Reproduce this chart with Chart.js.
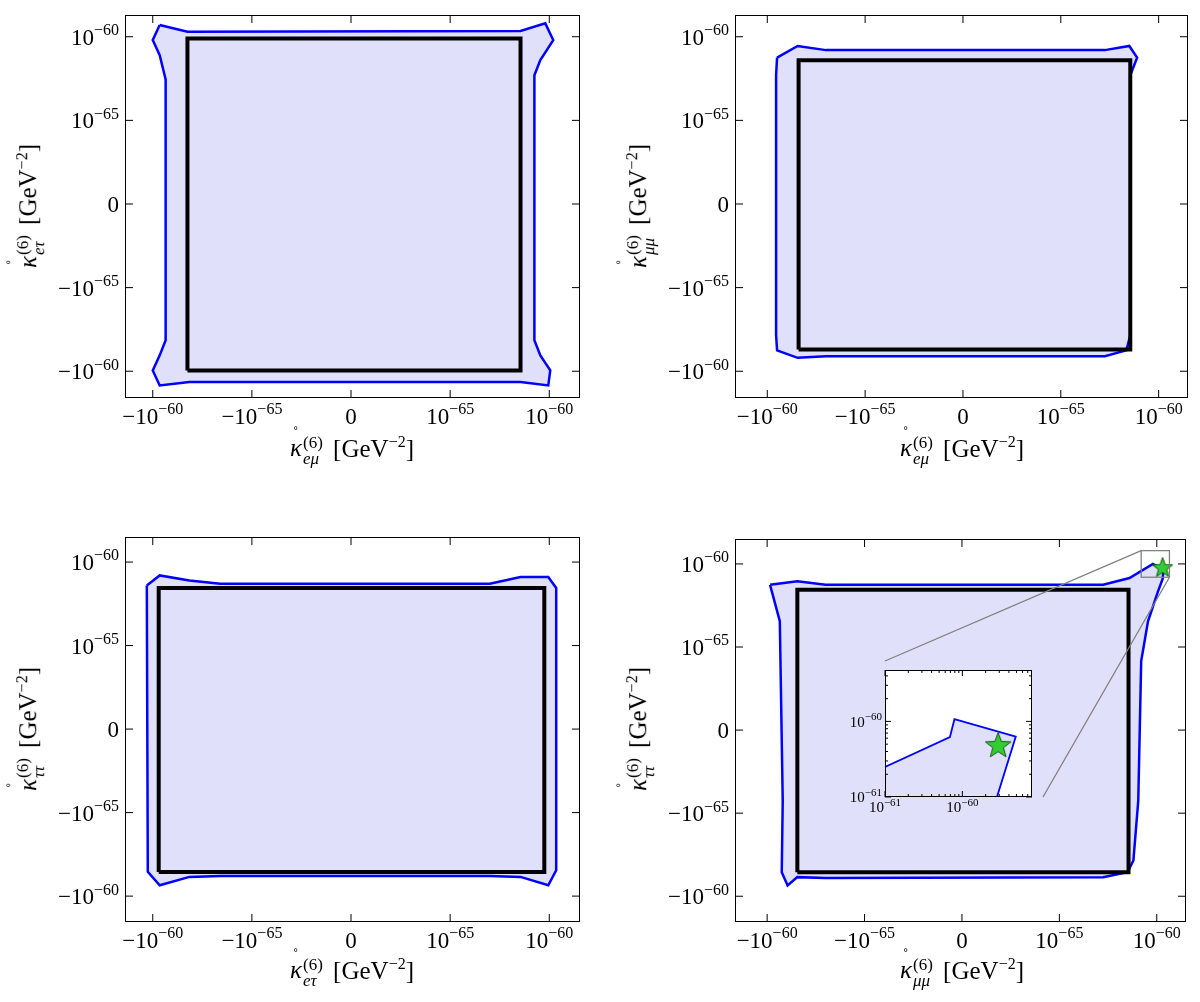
<!DOCTYPE html>
<html><head><meta charset="utf-8">
<script src="https://cdn.jsdelivr.net/npm/chart.js@4.4.0/dist/chart.umd.min.js"></script>
<style>
body{margin:0;background:#fff;width:1200px;height:1002px;position:relative;overflow:hidden;font-family:"Liberation Serif","DejaVu Serif",serif}
canvas{position:absolute}
.t{position:absolute;font-size:25px;white-space:nowrap;color:#000}
.k{position:relative;display:inline-block}
.k b{position:absolute;left:3px;top:-9px;font-weight:normal;font-size:16px;font-style:normal}
.ss{display:inline-flex;flex-direction:column;vertical-align:middle;font-size:17px;line-height:16px;margin-left:1px;margin-right:4px}
.ss i{display:block}
.yl{transform-origin:center;transform:translate(-50%,-50%) rotate(-90deg)}
.xl{transform:translate(-50%,-50%)}
sup{font-size:16px}
</style></head><body>
<script>
// Axis coordinates are symlog units: ±1 = ±1e-65, ±2 = ±1e-60
const tickValues=[-2,-1,0,1,2];
const tickBases=['−10','−10','0','10','10'];
const tickExps=['−60','−65','','−65','−60'];
const c1X=[-1.93,-1.65,1.71,1.96,2.04,1.91,1.85,1.85,1.91,2.01,1.99,1.71,-1.63,-1.93,-2.0,-1.93,-1.87,-1.87,-1.93,-2.0,-1.93];
const c1Y=[2.14,2.06,2.07,2.16,1.96,1.72,1.54,-1.63,-1.81,-1.99,-2.17,-2.13,-2.13,-2.17,-1.99,-1.81,-1.63,1.49,1.78,1.96,2.14];
const r1=[-1.65,1.71,-1.99,1.98];
const c2X=[-1.90,-1.69,-1.40,1.45,1.70,1.78,1.71,1.71,1.67,1.45,-1.40,-1.69,-1.90,-1.91,-1.91,-1.90];
const c2Y=[1.75,1.89,1.84,1.84,1.89,1.75,1.54,-1.57,-1.75,-1.82,-1.82,-1.84,-1.75,-1.57,1.54,1.75];
const r2=[-1.68,1.71,-1.74,1.72];
const c3X=[-2.06,-1.93,-1.63,-1.32,1.40,1.71,1.99,2.07,2.07,1.99,1.71,1.40,-1.32,-1.63,-1.93,-2.05,-2.06];
const c3Y=[1.72,1.84,1.78,1.74,1.74,1.82,1.82,1.69,-1.69,-1.87,-1.77,-1.76,-1.76,-1.77,-1.87,-1.71,1.72];
const r3=[-1.94,1.95,-1.71,1.69];
const c4X=[-1.97,-1.69,-1.40,1.45,1.72,1.96,2.07,2.06,2.01,1.91,1.84,1.81,1.76,1.70,1.45,-1.40,-1.69,-1.79,-1.85,-1.84,-1.87,-1.95,-1.97];
const c4Y=[1.75,1.79,1.75,1.75,1.83,2.0,1.93,1.82,1.66,1.31,0.83,-0.85,-1.57,-1.71,-1.77,-1.78,-1.77,-1.87,-1.71,-0.85,1.31,1.66,1.75];
const r4=[-1.69,1.71,-1.71,1.69];
const starX=[2.06], starY=[1.96];
// inset (real values, log axes)
const insX=[1e-61,6.9e-61,7.9e-61,4.9e-60,2.8e-60,1e-61];
const insY=[2.5e-61,6.2e-61,1.07e-60,6.3e-61,1e-61,1e-61];
const insStarX=[2.9e-60], insStarY=[4.9e-61];
const insTicks=[1e-61,1e-60], insExps=['−61','−60'];

const FAM='"Liberation Serif","DejaVu Serif",serif';
const FILL='#e0e0fa';
function pts(xs,ys){return xs.map((x,i)=>({x,y:ys[i]}));}
function rect(r){return [{x:r[0],y:r[2]},{x:r[1],y:r[2]},{x:r[1],y:r[3]},{x:r[0],y:r[3]},{x:r[0],y:r[2]}];}
function starImg(size){const c=document.createElement('canvas');c.width=c.height=size;const g=c.getContext('2d');
 g.beginPath();for(let i=0;i<10;i++){const a=-Math.PI/2+i*Math.PI/5;const r=(i%2?0.2:0.48)*size;g.lineTo(size/2+r*Math.cos(a),size/2+r*Math.sin(a)+size*0.04);}g.closePath();
 g.fillStyle='#33cc33';g.fill();g.strokeStyle='#0a5a0a';g.lineWidth=1;g.stroke();return c;}

// draw "base^exp" label; align: 'center' (top anchored) or 'right' (middle anchored)
function drawLab(g,base,exp,x,y,align,bs,es){
 g.font=bs+'px '+FAM;const bw=g.measureText(base).width;g.font=es+'px '+FAM;const ew=exp?g.measureText(exp).width:0;
 const w=bw+ew;let x0=align==='center'?x-w/2:x-w;let yb=align==='center'?y+bs*0.95:y+bs*0.35;
 g.fillStyle='#000';g.textBaseline='alphabetic';g.textAlign='left';
 g.font=bs+'px '+FAM;g.fillText(base,x0,yb);if(exp){g.font=es+'px '+FAM;g.fillText(exp,x0+bw,yb-bs*0.42);}
}
const frame={id:'frame',afterDraw(ch,args,o){const a=ch.chartArea,g=ch.ctx;g.save();g.strokeStyle='#000';g.lineWidth=1;
 g.strokeRect(a.left+0.5,a.top+0.5,a.right-a.left-1,a.bottom-a.top-1);
 (o.xt||[]).forEach(([v,l])=>{const p=ch.scales.x.getPixelForValue(v);g.beginPath();g.moveTo(p,a.bottom);g.lineTo(p,a.bottom-l);g.moveTo(p,a.top);g.lineTo(p,a.top+l);g.stroke();});
 (o.yt||[]).forEach(([v,l])=>{const p=ch.scales.y.getPixelForValue(v);g.beginPath();g.moveTo(a.left,p);g.lineTo(a.left+l,p);g.moveTo(a.right,p);g.lineTo(a.right-l,p);g.stroke();});
 (o.labs||[]).forEach(([v,b,e])=>{drawLab(g,b,e,ch.scales.x.getPixelForValue(v),a.bottom+o.pad,'center',o.bs,o.es);
   drawLab(g,b,e,a.left-o.pad-2,ch.scales.y.getPixelForValue(v),'right',o.bs,o.es);});
 if(o.extra)o.extra(ch,g);g.restore();}};
const whiteBg={id:'whiteBg',beforeDraw(ch){const a=ch.chartArea,g=ch.ctx;g.save();g.fillStyle='#fff';g.fillRect(a.left,a.top,a.right-a.left,a.bottom-a.top);g.restore();}};

function axis(type,min,max,isX,sz){return {type,min,max,display:true,
 afterFit:s=>{if(isX)s.height=sz;else s.width=sz;s.paddingLeft=s.paddingRight=s.paddingTop=s.paddingBottom=0;},
 grid:{display:false,drawTicks:false},border:{display:false},ticks:{display:false}};}

const LEFT=110,BOT=60,TOP=10,RIGHT=10;
function panel(px,py,pw,ph,xr,yr,cx,cy,rc,extra,star){
 const cv=document.createElement('canvas');document.body.appendChild(cv);
 cv.style.left=(px-LEFT)+'px';cv.style.top=(py-TOP)+'px';
 const W=pw+LEFT+RIGHT,H=ph+TOP+BOT;cv.width=W;cv.height=H;cv.style.width=W+'px';cv.style.height=H+'px';
 const ds=[
  {data:rect(rc),showLine:true,borderColor:'#000',borderWidth:4,pointRadius:0,fill:false,order:1},
  {data:pts(cx,cy),showLine:true,borderColor:'#0000ff',borderWidth:2.5,pointRadius:0,fill:'shape',backgroundColor:FILL,order:2,tension:0}];
 if(star)ds.push({data:pts(star[0],star[1]),pointStyle:starImg(22),pointRadius:11,order:0});
 const tk=tickValues.map(v=>[v,8]);
 new Chart(cv,{type:'scatter',data:{datasets:ds},
  options:{responsive:false,animation:false,devicePixelRatio:1,layout:{padding:{top:TOP,right:RIGHT,left:0,bottom:0}},
   plugins:{legend:{display:false},tooltip:{enabled:false},
     frame:{xt:tk,yt:tk,extra,labs:tickValues.map((v,i)=>[v,tickBases[i],tickExps[i]]),pad:4,bs:23,es:16}},
   scales:{x:axis('linear',xr[0],xr[1],true,BOT),y:axis('linear',yr[0],yr[1],false,LEFT)}},
  plugins:[frame]});
}
panel(125,15,455,383,[-2.28,2.31],[-2.32,2.26],c1X,c1Y,r1);
panel(735,15,453,383,[-2.33,2.30],[-2.32,2.26],c2X,c2Y,r2);
panel(125,537,455,385,[-2.28,2.31],[-2.31,2.30],c3X,c3Y,r3);
const IN={l:885,t:661,r:1043,b:797};
const off={left:735-LEFT,top:537-TOP};
panel(735,537,453,385,[-2.33,2.30],[-2.31,2.30],c4X,c4Y,r4,(ch,g)=>{
 const x=ch.scales.x,y=ch.scales.y;const bx0=x.getPixelForValue(1.84),bx1=x.getPixelForValue(2.13),by0=y.getPixelForValue(2.16),by1=y.getPixelForValue(1.84);
 g.strokeStyle='#808080';g.lineWidth=1.3;g.strokeRect(bx0,by0,bx1-bx0,by1-by0);
 g.beginPath();g.moveTo(bx0,by0);g.lineTo(IN.l-off.left,IN.t-off.top);g.moveTo(bx1,by1);g.lineTo(IN.r-off.left,IN.b-off.top);g.stroke();
},[starX,starY]);

// inset
(function(){
 const IL=50,IB=30,IT=6,IR=4;const cv=document.createElement('canvas');document.body.appendChild(cv);
 const W=IN.r-IN.l+IL+IR,H=IN.b-IN.t+IT+IB;cv.width=W;cv.height=H;cv.style.width=W+'px';cv.style.height=H+'px';
 cv.style.left=(IN.l-IL)+'px';cv.style.top=(IN.t-IT)+'px';
 const xmax=Math.pow(10,-59.1),ymax=Math.pow(10,-59.32);
 const xt=[],yt=[];
 insTicks.forEach(b=>{for(let k=1;k<10;k++){const v=b*k;if(v<=xmax)xt.push([v,k==1?6:3]);if(v<=ymax)yt.push([v,k==1?6:3]);}});
 new Chart(cv,{type:'scatter',data:{datasets:[
   {data:pts(insX,insY),showLine:true,borderColor:'#0000ff',borderWidth:1.8,pointRadius:0,fill:'shape',backgroundColor:FILL,order:2},
   {data:pts(insStarX,insStarY),pointStyle:starImg(28),pointRadius:14,order:0}]},
  options:{responsive:false,animation:false,devicePixelRatio:1,layout:{padding:{top:IT,right:IR,left:0,bottom:0}},
   plugins:{legend:{display:false},tooltip:{enabled:false},
     frame:{xt,yt,labs:insTicks.map((v,i)=>[v,'10',insExps[i]]),pad:1,bs:15,es:11}},
   scales:{x:axis('logarithmic',1e-61,xmax,true,IB),y:axis('logarithmic',1e-61,ymax,false,IL)}},
  plugins:[whiteBg,frame]});
})();

// axis titles
function lab(sub,cls,x,y){const d=document.createElement('div');d.className='t '+cls;d.style.left=x+'px';d.style.top=y+'px';
 d.innerHTML='<span class="k"><i>κ</i><b>˚</b></span><span class="ss"><i style="font-style:normal">(6)</i><i>'+sub+'</i></span> [GeV<sup>−2</sup>]';document.body.appendChild(d);}
lab('eμ','xl',352,450);lab('eμ','xl',962,450);lab('eτ','xl',352,972);lab('μμ','xl',962,972);
lab('eτ','yl',30,206);lab('μμ','yl',640,206);lab('ττ','yl',30,729);lab('ττ','yl',640,729);
</script></body></html>
